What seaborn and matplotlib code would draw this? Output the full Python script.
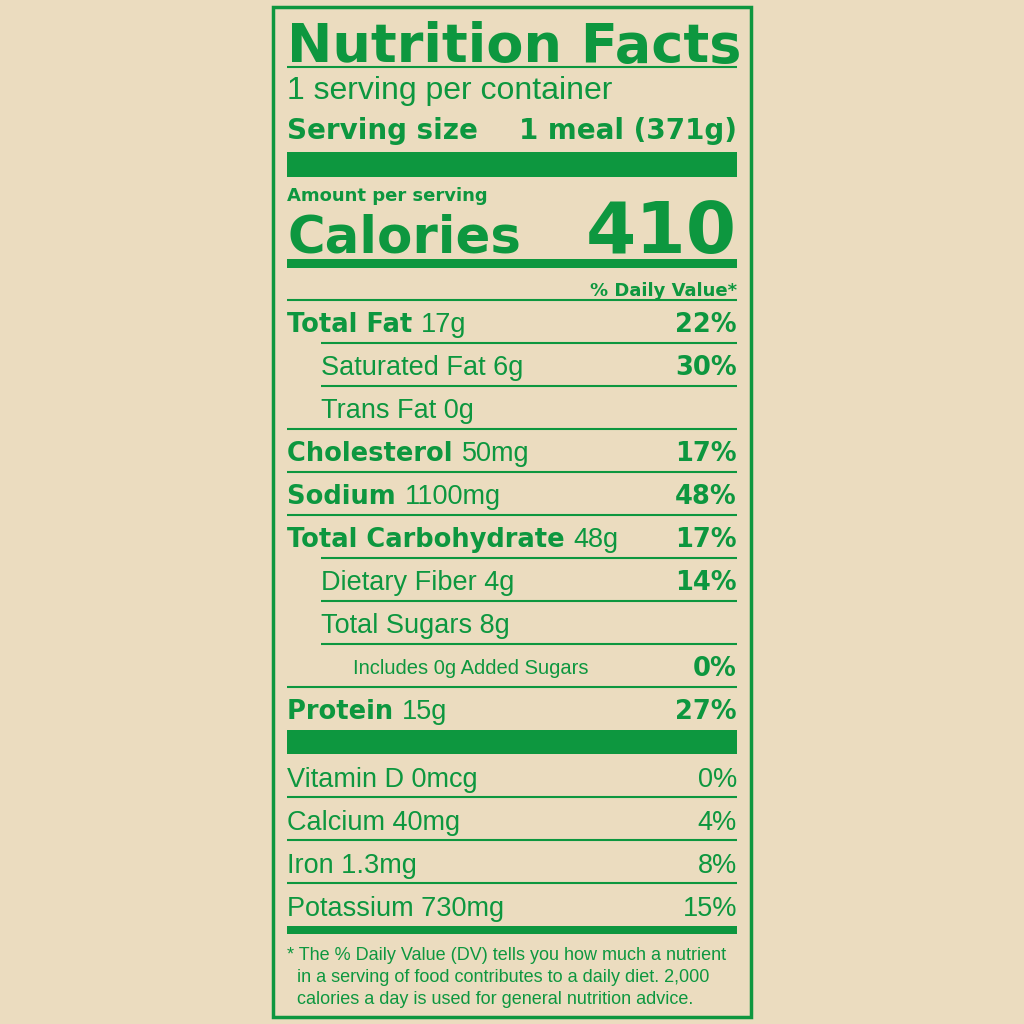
import matplotlib
matplotlib.use("Agg")
import matplotlib.pyplot as plt
import seaborn as sns

sns.set_theme(style="white")
plt.rcParams['font.family'] = ['Liberation Sans', 'DejaVu Sans']

BG = '#ebdcbf'
GREEN = '#0d973f'
HEAVY = ['DejaVu Sans']

# name, amount, %DV, indent level
nutrients = ["Total Fat", "Saturated Fat", "Trans Fat", "Cholesterol", "Sodium",
             "Total Carbohydrate", "Dietary Fiber", "Total Sugars", "Includes 0g Added Sugars", "Protein"]
amounts = ["17g", "6g", "0g", "50mg", "1100mg", "48g", "4g", "8g", "", "15g"]
dv = ["22%", "30%", "", "17%", "48%", "17%", "14%", "", "0%", "27%"]
indent = [0, 1, 1, 0, 0, 0, 1, 1, 2, 0]

vitamins = ["Vitamin D 0mcg", "Calcium 40mg", "Iron 1.3mg", "Potassium 730mg"]
vit_dv = ["0%", "4%", "8%", "15%"]

footnote = ["* The % Daily Value (DV) tells you how much a nutrient",
            "  in a serving of food contributes to a daily diet. 2,000",
            "  calories a day is used for general nutrition advice."]

fig = plt.figure(figsize=(10.24, 10.24), dpi=100, facecolor=BG)
ax = fig.add_axes([0, 0, 1, 1])
ax.set_facecolor(BG)
ax.set_xlim(0, 1024)
ax.set_ylim(1024, 0)
ax.axis('off')

L, R = 287, 737

def hline(y, lw=1.5, x0=L):
    ax.plot([x0, R], [y, y], color=GREEN, lw=lw, solid_capstyle='butt')

def bar(y0, y1):
    ax.fill_between([L, R], y0, y1, color=GREEN, lw=0)

kw = dict(color=GREEN, va='center_baseline')

# outer box
ax.add_patch(plt.Rectangle((273, 7), 478, 1010, fill=False, ec=GREEN, lw=2.5))

ax.text(L, 42, "Nutrition Facts", fontsize=39, fontweight='bold', family=HEAVY, **kw)
hline(67)
ax.text(L, 87, "1 serving per container", fontsize=23, **kw)
ax.text(L, 128, "Serving size", fontsize=20, fontweight='bold', family=HEAVY, **kw)
ax.text(R, 128, "1 meal (371g)", fontsize=20, fontweight='bold', family=HEAVY, ha='right', **kw)
bar(152, 177)
ax.text(L, 194, "Amount per serving", fontsize=13, fontweight='bold', family=HEAVY, **kw)
ax.text(L, 233, "Calories", fontsize=37, fontweight='bold', family=HEAVY, **kw)
ax.text(R, 226, "410", fontsize=52, fontweight='bold', family=HEAVY, ha='right', **kw)
bar(259, 268)
ax.text(R, 289, "% Daily Value*", fontsize=13, fontweight='bold', family=HEAVY, ha='right', **kw)
hline(300)

y = 322
for i, n in enumerate(nutrients):
    x = L + 34 * indent[i]
    if indent[i] == 2:
        ax.text(x - 2, y, n, fontsize=14.5, **kw)
    elif indent[i] == 0:
        t = ax.text(x, y, n + " ", fontsize=18.5, fontweight='bold', family=HEAVY, **kw)
        ax.annotate(amounts[i], xycoords=t, xy=(1, 0), fontsize=19.5,
                    color=GREEN, va='bottom')
    else:
        ax.text(x, y, n + " " + amounts[i], fontsize=19.5, **kw)
    if dv[i]:
        ax.text(R, y, dv[i], fontsize=18.5, fontweight='bold', family=HEAVY, ha='right', **kw)
    if i < len(nutrients) - 1:
        x0 = L if indent[i + 1] == 0 else L + 34
        hline(y + 21, x0=x0)
    y += 43

bar(730, 754)
y = 777
for i, v in enumerate(vitamins):
    ax.text(L, y, v, fontsize=19.5, **kw)
    ax.text(R, y, vit_dv[i], fontsize=19.5, ha='right', **kw)
    if i < len(vitamins) - 1:
        hline(y + 20)
    y += 43
bar(926, 934)

for i, line in enumerate(footnote):
    ax.text(L, 954 + 21.5 * i, line, fontsize=13, **kw)

fig.savefig("out.png", dpi=100, facecolor=BG)
